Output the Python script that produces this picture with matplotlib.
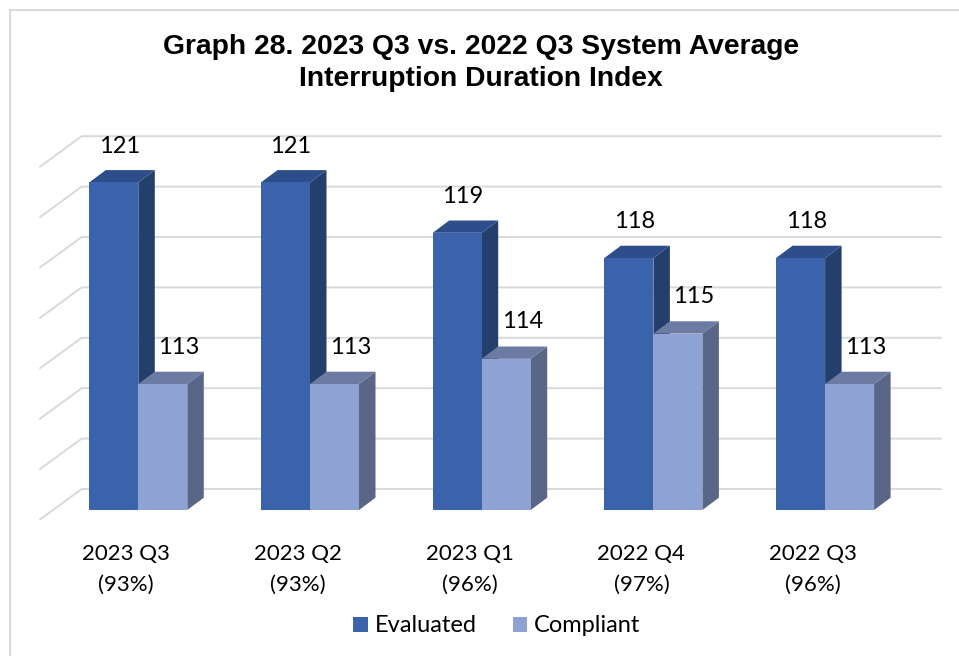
import matplotlib
matplotlib.use("Agg")
import matplotlib.pyplot as plt
from matplotlib.patches import Polygon
from matplotlib.lines import Line2D

# ---------------- data ----------------
categories = ["2023 Q3", "2023 Q2", "2023 Q1", "2022 Q4", "2022 Q3"]
compliance_pct = ["93%", "93%", "96%", "97%", "96%"]
evaluated = [121, 121, 119, 118, 118]
compliant = [113, 113, 114, 115, 113]
series_names = ["Evaluated", "Compliant"]
grid_values = [108, 110, 112, 114, 116, 118, 120, 122]
axis_min = 108
title = "Graph 28. 2023 Q3 vs. 2022 Q3 System Average\nInterruption Duration Index"

# ---------------- styling / geometry (pixels) ----------------
W, H, DPI = 959, 656, 100
GROUP_PX = 171.7      # distance between categories
CENTER0_PX = 138.3    # x of the first category (front plane)
UNIT_PX = 25.2        # pixels per value unit
BASE_PX = 510         # y (from top) of axis minimum in bar front plane
BAR_W_PX = 49
DEPTH_DX, DEPTH_DY = 16.5, 12.3          # bar depth
FLOOR_FRONT = (-13.7, 10)                # front floor edge offset from bar plane (dx, dy down)
WALL_BACK = (28.7, 21)                   # back wall offset from bar plane (dx, dy up)
WALL_LEFT_PX = 39.3                      # x of left wall front edge
WALL_RIGHT_PX = 941.7                    # right end of gridlines

E_FRONT, E_TOP, E_SIDE = "#3A63AC", "#2D4E8A", "#253F6D"
C_FRONT, C_TOP, C_SIDE = "#8FA2D4", "#6B7BA1", "#5A6686"
GRID = "#D9D9D9"

LABEL_FONT = ["Lato", "DejaVu Sans"]
TITLE_FONT = ["Liberation Sans", "DejaVu Sans"]

fig = plt.figure(figsize=(W / DPI, H / DPI), dpi=DPI)
fig.patch.set_facecolor("white")
ax = fig.add_axes([0, 0, 1, 1])
ax.axis("off")
ax.set_xlim(-CENTER0_PX / GROUP_PX, (W - CENTER0_PX) / GROUP_PX)
ax.set_ylim(axis_min - (H - BASE_PX) / UNIT_PX, axis_min + BASE_PX / UNIT_PX)

sx = 1.0 / GROUP_PX
sy = 1.0 / UNIT_PX
bw = BAR_W_PX * sx
ddx, ddy = DEPTH_DX * sx, DEPTH_DY * sy

# ---------------- gridlines (side wall + back wall) ----------------
xl_front = (WALL_LEFT_PX - CENTER0_PX) * sx
xl_back = xl_front + (WALL_BACK[0] - FLOOR_FRONT[0]) * sx
x_right = (WALL_RIGHT_PX - CENTER0_PX) * sx
for v in grid_values:
    ax.plot([xl_front, xl_back, x_right],
            [v - FLOOR_FRONT[1] * sy, v + WALL_BACK[1] * sy, v + WALL_BACK[1] * sy],
            color=GRID, lw=1.4, zorder=1, solid_capstyle="butt")

# ---------------- 3D bars ----------------
def bar3d(lefts, vals, front, top, side, z):
    cont = ax.bar(lefts, [v - axis_min for v in vals], width=bw, bottom=axis_min,
                  align="edge", color=front, linewidth=0, zorder=z + 1)
    for xl, v in zip(lefts, vals):
        xr = xl + bw
        ax.add_patch(Polygon([(xr, axis_min), (xr + ddx, axis_min + ddy),
                              (xr + ddx, v + ddy), (xr, v)],
                             closed=True, facecolor=side, lw=0, zorder=z))
        ax.add_patch(Polygon([(xl, v), (xl + ddx, v + ddy),
                              (xr + ddx, v + ddy), (xr, v)],
                             closed=True, facecolor=top, lw=0, zorder=z))
    return cont

idx = list(range(len(categories)))
e_left = [i - bw for i in idx]
c_left = [i for i in idx]
be = bar3d(e_left, evaluated, E_FRONT, E_TOP, E_SIDE, 2)
bc = bar3d(c_left, compliant, C_FRONT, C_TOP, C_SIDE, 4)

# ---------------- value labels ----------------
for xl, v in zip(e_left, evaluated):
    ax.annotate(f"{v}", xy=(xl + bw / 2, v), xytext=(5.5, 36), textcoords="offset pixels",
                ha="center", va="center", fontsize=17, family=LABEL_FONT, color="black", zorder=10)
for xl, v in zip(c_left, compliant):
    ax.annotate(f"{v}", xy=(xl + bw / 2, v), xytext=(16, 37), textcoords="offset pixels",
                ha="center", va="center", fontsize=17, family=LABEL_FONT, color="black", zorder=10)

# ---------------- category labels ----------------
for i, (cat, pct) in zip(idx, zip(categories, compliance_pct)):
    ax.annotate(cat, xy=(i, axis_min), xytext=(-12, -44), textcoords="offset pixels",
                ha="center", va="center", fontsize=16, family=LABEL_FONT, color="black")
    ax.annotate(f"({pct})", xy=(i, axis_min), xytext=(-12, -75), textcoords="offset pixels",
                ha="center", va="center", fontsize=16, family=LABEL_FONT, color="black")

# ---------------- title ----------------
fig.text(481 / W, 1 - 63.5 / H, title, ha="center", va="center", fontsize=20.3,
         fontweight="bold", family=TITLE_FONT, linespacing=1.3)

# ---------------- legend ----------------
fig.legend([be, bc], series_names, loc="center", bbox_to_anchor=(497 / W, 1 - 626 / H),
           ncol=2, frameon=False, handlelength=0.62, handleheight=0.62,
           handletextpad=0.3, columnspacing=1.5, prop={"family": LABEL_FONT, "size": 17})

# ---------------- outer frame (top & left) ----------------
fig.add_artist(Line2D([9.5 / W, 9.5 / W], [0, 1 - 9.5 / H], transform=fig.transFigure,
                      color=GRID, lw=1.4))
fig.add_artist(Line2D([9.5 / W, 1], [1 - 9.5 / H, 1 - 9.5 / H], transform=fig.transFigure,
                      color=GRID, lw=1.4))

fig.savefig("out.png", dpi=DPI, facecolor="white")
